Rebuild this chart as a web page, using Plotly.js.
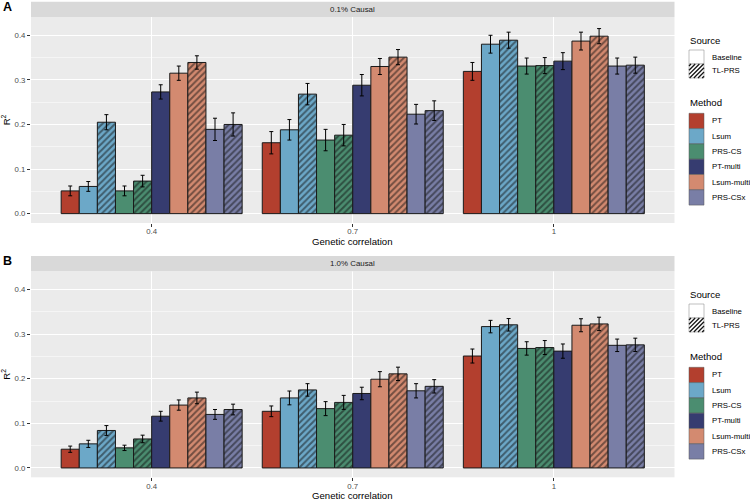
<!DOCTYPE html>
<html><head><meta charset="utf-8">
<script src="https://cdn.plot.ly/plotly-3.0.1.min.js"></script>
<style>html,body{margin:0;padding:0;background:#fff}#chart{width:750px;height:502px}</style>
</head><body><div id="chart"></div>
<script>
// ---- data ----
const correlations = ['0.4', '0.7', '1'];
const methods = ['PT', 'Lsum', 'PRS-CS', 'PT-multi', 'Lsum-multi', 'PRS-CSx'];
const methodColors = ['#B33F2E', '#6CA8C8', '#4B8D70', '#363C70', '#D38A70', '#797EA6'];
const sources = ['Baseline', 'TL-PRS'];
const barMethod = ['PT', 'Lsum', 'Lsum', 'PRS-CS', 'PRS-CS', 'PT-multi', 'Lsum-multi', 'Lsum-multi', 'PRS-CSx', 'PRS-CSx'];
const barSource = ['Baseline', 'Baseline', 'TL-PRS', 'Baseline', 'TL-PRS', 'Baseline', 'Baseline', 'TL-PRS', 'Baseline', 'TL-PRS'];
const panelTitles = ['0.1% Causal', '1.0% Causal'];
const panelLetters = ['A', 'B'];
const xTitle = 'Genetic correlation';
const yTitle = 'R<sup>2</sup>';

// Panel A: 0.1% causal
const r2A_04 = [0.051, 0.061, 0.205, 0.051, 0.073, 0.273, 0.315, 0.339, 0.189, 0.200];
const seA_04 = [0.011, 0.011, 0.017, 0.011, 0.013, 0.016, 0.016, 0.015, 0.025, 0.026];
const r2A_07 = [0.159, 0.188, 0.268, 0.165, 0.176, 0.288, 0.330, 0.351, 0.223, 0.231];
const seA_07 = [0.025, 0.023, 0.024, 0.024, 0.024, 0.024, 0.018, 0.017, 0.022, 0.022];
const r2A_1  = [0.319, 0.380, 0.389, 0.331, 0.332, 0.342, 0.387, 0.398, 0.331, 0.333];
const seA_1  = [0.020, 0.020, 0.018, 0.018, 0.018, 0.019, 0.020, 0.017, 0.018, 0.018];

// Panel B: 1.0% causal
const r2B_04 = [0.042, 0.054, 0.084, 0.045, 0.065, 0.116, 0.141, 0.157, 0.120, 0.131];
const seB_04 = [0.007, 0.008, 0.011, 0.006, 0.0085, 0.011, 0.0115, 0.013, 0.011, 0.012];
const r2B_07 = [0.127, 0.157, 0.175, 0.133, 0.147, 0.167, 0.199, 0.211, 0.173, 0.183];
const seB_07 = [0.012, 0.0155, 0.014, 0.0157, 0.0157, 0.014, 0.017, 0.015, 0.016, 0.015];
const r2B_1  = [0.251, 0.317, 0.321, 0.268, 0.270, 0.262, 0.320, 0.323, 0.275, 0.276];
const seB_1  = [0.0157, 0.014, 0.014, 0.015, 0.0157, 0.016, 0.0146, 0.015, 0.014, 0.015];

const yTicks = [0, 0.1, 0.2, 0.3, 0.4];

// ---- build ----
const FONT = 'Liberation Sans, Arial, Helvetica, sans-serif';
const panels = [
  {r2: [r2A_04, r2A_07, r2A_1], se: [seA_04, seA_07, seA_1], xa: 'x', ya: 'y'},
  {r2: [r2B_04, r2B_07, r2B_1], se: [seB_04, seB_07, seB_1], xa: 'x2', ya: 'y2'}
];
const traces = [];
panels.forEach(p => {
  for (let j = 0; j < barMethod.length; j++) {
    const col = methodColors[methods.indexOf(barMethod[j])];
    const tl = barSource[j] === 'TL-PRS';
    traces.push({
      type: 'bar', xaxis: p.xa, yaxis: p.ya,
      name: barMethod[j] + ' (' + barSource[j] + ')',
      x: correlations,
      y: p.r2.map(a => a[j]),
      marker: {
        color: col,
        line: {color: '#1a1a1a', width: 1},
        pattern: tl ? {shape: '/', fillmode: 'overlay', fgcolor: '#111111', size: 4.5, solidity: 0.45} : {shape: ''}
      },
      error_y: {type: 'data', array: p.se.map(a => a[j]), color: '#000', thickness: 1, width: 2},
      showlegend: false, hoverinfo: 'none'
    });
  }
});

const W = 750, H = 502;
const px = x => x / W, py = y => 1 - y / H;

function tickFont() { return {family: FONT, size: 7.8, color: '#4d4d4d'}; }
function xAxis(anchor) {
  return {
    domain: [px(31), px(674.5)], anchor: anchor, type: 'category',
    categoryorder: 'array', categoryarray: correlations, range: [-0.6, 2.6],
    showgrid: true, gridcolor: '#ffffff', gridwidth: 1.1, zeroline: false, showline: false,
    ticks: 'outside', ticklen: 3, tickwidth: 1, tickcolor: '#333', tickfont: tickFont(),
    ticklabelstandoff: -2, fixedrange: true
  };
}
function yAxis(anchor, top, bottom) {
  return {
    domain: [py(bottom), py(top)], anchor: anchor, range: [-0.021, 0.441],
    tickmode: 'array', tickvals: yTicks, ticktext: yTicks.map(v => v.toFixed(1)),
    showgrid: true, gridcolor: '#ffffff', gridwidth: 1.1, zeroline: false, showline: false,
    minor: {tickmode: 'array', tickvals: [0.05, 0.15, 0.25, 0.35], showgrid: true, gridcolor: '#ffffff', gridwidth: 0.5, ticks: ''},
    ticks: 'outside', ticklen: 3, tickwidth: 1, tickcolor: '#333', tickfont: tickFont(),
    title: {text: yTitle, font: {family: FONT, size: 9.6, color: '#000'}, standoff: 3}, fixedrange: true
  };
}

const shapes = [], annotations = [];
const panelTop = [17, 271.3];
const panelOff = [0, 254];
const xTitleY = [241, 495.5];
panelOff.forEach((dy, i) => {
  // facet strip
  shapes.push({type: 'rect', xref: 'paper', yref: 'paper', x0: px(31), x1: px(674.5), y0: py(panelTop[i]), y1: py(panelTop[i] - 15.3), fillcolor: '#d9d9d9', line: {width: 0}});
  annotations.push({xref: 'paper', yref: 'paper', x: px(352.7), y: py(panelTop[i] - 7.6), text: panelTitles[i], showarrow: false, xanchor: 'center', yanchor: 'middle', font: {family: FONT, size: 7.9, color: '#1a1a1a'}});
  // x axis title
  annotations.push({xref: 'paper', yref: 'paper', x: px(352.7), y: py(xTitleY[i]), text: xTitle, showarrow: false, xanchor: 'center', yanchor: 'middle', font: {family: FONT, size: 9.6, color: '#000'}});
  // panel letter
  annotations.push({xref: 'paper', yref: 'paper', x: px(1), y: py(7 + dy), text: '<b>' + panelLetters[i] + '</b>', showarrow: false, xanchor: 'left', yanchor: 'middle', font: {family: FONT, size: 12.5, color: '#000'}});
  // legend: Source
  const lx0 = 689, lx1 = 704, tx = 710;
  annotations.push({xref: 'paper', yref: 'paper', x: px(lx0 - 1), y: py(40 + dy), text: 'Source', showarrow: false, xanchor: 'left', yanchor: 'middle', font: {family: FONT, size: 9.6, color: '#000'}});
  sources.forEach((s, k) => {
    const y0 = 50 + dy + k * 14, y1 = y0 + 14;
    shapes.push({type: 'rect', xref: 'paper', yref: 'paper', x0: px(lx0), x1: px(lx1), y0: py(y1), y1: py(y0), fillcolor: '#ffffff', line: {color: '#7f7f7f', width: 0.5}});
    if (s === 'TL-PRS') {
      let path = '';
      for (let c = lx0 + y0 + 2; c < lx1 + y1; c += 4.2) {
        const xs = Math.max(lx0, c - y1), xe = Math.min(lx1, c - y0);
        if (xe - xs > 0.3) path += 'M' + px(xs) + ',' + py(c - xs) + 'L' + px(xe) + ',' + py(c - xe);
      }
      shapes.push({type: 'path', xref: 'paper', yref: 'paper', path: path, line: {color: '#151515', width: 1.3}});
    }
    annotations.push({xref: 'paper', yref: 'paper', x: px(tx), y: py((y0 + y1) / 2), text: s, showarrow: false, xanchor: 'left', yanchor: 'middle', font: {family: FONT, size: 7.8, color: '#000'}});
  });
  // legend: Method
  annotations.push({xref: 'paper', yref: 'paper', x: px(lx0 - 1), y: py(102.7 + dy), text: 'Method', showarrow: false, xanchor: 'left', yanchor: 'middle', font: {family: FONT, size: 9.6, color: '#000'}});
  methods.forEach((m, k) => {
    const y0 = 113.3 + dy + k * 15.3, y1 = y0 + 15.3;
    shapes.push({type: 'rect', xref: 'paper', yref: 'paper', x0: px(lx0), x1: px(lx1), y0: py(y1), y1: py(y0), fillcolor: methodColors[k], line: {color: '#555', width: 0.5}});
    annotations.push({xref: 'paper', yref: 'paper', x: px(tx), y: py((y0 + y1) / 2), text: m, showarrow: false, xanchor: 'left', yanchor: 'middle', font: {family: FONT, size: 7.8, color: '#000'}});
  });
});

const layout = {
  width: W, height: H, margin: {l: 0, r: 0, t: 0, b: 0},
  paper_bgcolor: '#ffffff', plot_bgcolor: '#ebebeb',
  barmode: 'group', bargap: 0.1, bargroupgap: 0,
  showlegend: false, font: {family: FONT},
  xaxis: xAxis('y'), xaxis2: xAxis('y2'),
  yaxis: yAxis('x', 17, 223), yaxis2: yAxis('x2', 271.3, 477.3),
  shapes: shapes, annotations: annotations
};
Plotly.newPlot('chart', traces, layout, {staticPlot: true, displayModeBar: false});
</script></body></html>
